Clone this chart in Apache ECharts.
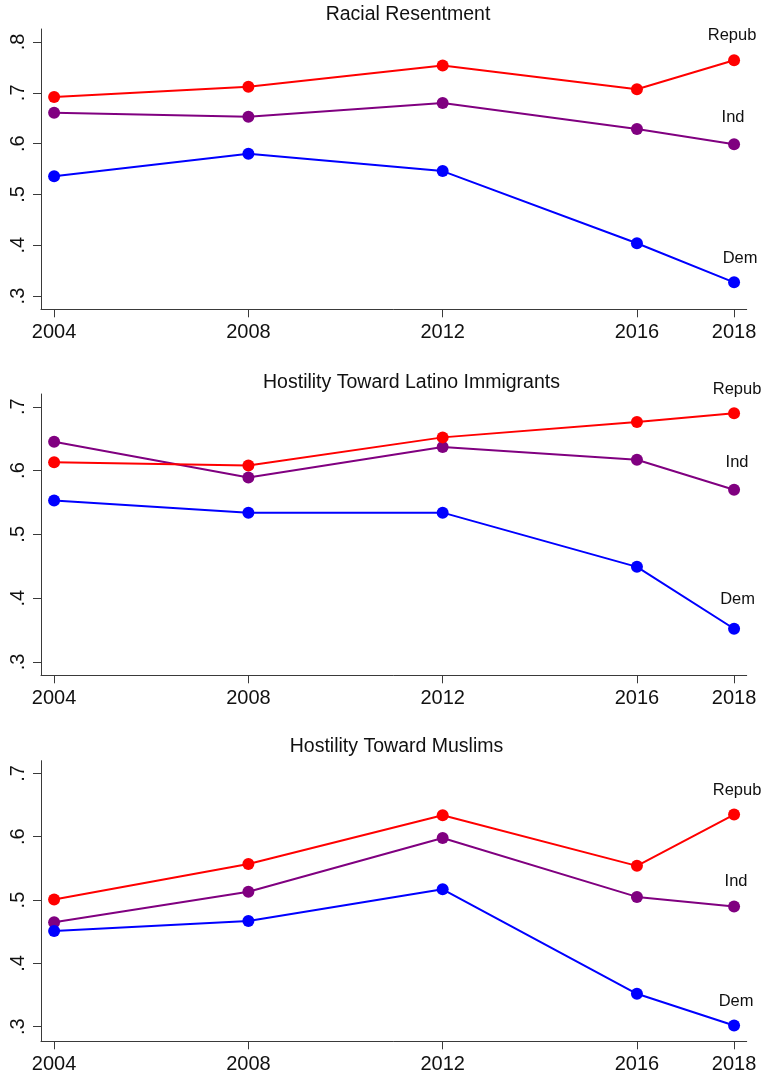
<!DOCTYPE html>
<html>
<head>
<meta charset="utf-8">
<script src="https://cdn.jsdelivr.net/npm/echarts@6/dist/echarts.min.js"></script>
<style>
  html, body { margin: 0; padding: 0; background: #ffffff; }
  #chart { width: 762px; height: 1077px; }
</style>
</head>
<body>
<div id="chart"></div>
<script>
// Survey years and the ticks shown on each x axis
const years = [2004, 2008, 2012, 2016, 2018];
const xTicks = [2004, 2008, 2012, 2016, 2018];

const panelTitles = ['Racial Resentment', 'Hostility Toward Latino Immigrants', 'Hostility Toward Muslims'];
const partyNames = ['Repub', 'Ind', 'Dem'];

// Racial resentment, mean score by party
const resentRepub = [0.692, 0.712, 0.754, 0.707, 0.764];
const resentInd   = [0.661, 0.653, 0.680, 0.629, 0.599];
const resentDem   = [0.536, 0.580, 0.546, 0.404, 0.327];

// Hostility toward Latino immigrants
const latinoRepub = [0.613, 0.608, 0.652, 0.676, 0.690];
const latinoInd   = [0.645, 0.589, 0.637, 0.617, 0.570];
const latinoDem   = [0.553, 0.534, 0.534, 0.449, 0.352];

// Hostility toward Muslims
const muslimRepub = [0.501, 0.557, 0.634, 0.554, 0.635];
const muslimInd   = [0.465, 0.513, 0.598, 0.505, 0.490];
const muslimDem   = [0.451, 0.467, 0.517, 0.352, 0.302];

// y-axis tick values
const yTicksResent = [0.3, 0.4, 0.5, 0.6, 0.7, 0.8];
const yTicksOther  = [0.3, 0.4, 0.5, 0.6, 0.7];

// ---- layout & styling ----
const FONT = 'Liberation Sans, Arial, Helvetica, sans-serif';
const partyColors = { Repub: '#ff0000', Ind: '#800080', Dem: '#0000ff' };
const axisColor = '#3a3a3a';

const panels = [
  { title: panelTitles[0], titleX: 408, titleY: 15, top: 29, height: 280.3, yMin: 0.274, yMax: 0.8256, yTicks: yTicksResent,
    values: { Repub: resentRepub, Ind: resentInd, Dem: resentDem },
    labelOffset: { Repub: [-2, 0], Ind: [-1, -2], Dem: [6, 1] } },
  { title: panelTitles[1], titleX: 411.5, titleY: 383, top: 394, height: 281.3, yMin: 0.279, yMax: 0.72, yTicks: yTicksOther,
    values: { Repub: latinoRepub, Ind: latinoInd, Dem: latinoDem },
    labelOffset: { Repub: [3, 1], Ind: [3, -3], Dem: [3.5, -5] } },
  { title: panelTitles[2], titleX: 396.5, titleY: 746.5, top: 760.7, height: 280.6, yMin: 0.277, yMax: 0.72, yTicks: yTicksOther,
    values: { Repub: muslimRepub, Ind: muslimInd, Dem: muslimDem },
    labelOffset: { Repub: [3, 0], Ind: [2, 0], Dem: [2, 0] } }
];

const fmtY = v => (Math.round(v * 10) / 10).toFixed(1).replace(/^0/, '');

const grid = [], xAxis = [], yAxis = [], series = [], graphic = [];
// drawing order: Ind underneath, then Dem, then Repub on top
const drawOrder = ['Ind', 'Dem', 'Repub'];

panels.forEach((p, i) => {
  grid.push({ left: 41, width: 705.7, top: p.top, height: p.height, containLabel: false });
  xAxis.push({
    type: 'value', gridIndex: i, min: 2003.73, max: 2018.26,
    splitLine: { show: false },
    axisLine: { show: true, onZero: false, lineStyle: { color: axisColor, width: 1 } },
    axisTick: { show: true, length: 8, lineStyle: { color: axisColor, width: 1 }, customValues: xTicks },
    axisLabel: { show: true, customValues: xTicks, margin: 13, color: '#111', fontSize: 20, fontFamily: FONT,
      formatter: v => String(Math.round(v)) }
  });
  yAxis.push({
    type: 'value', gridIndex: i, min: p.yMin, max: p.yMax,
    splitLine: { show: false },
    axisLine: { show: true, onZero: false, lineStyle: { color: axisColor, width: 1 } },
    axisTick: { show: true, length: 8, lineStyle: { color: axisColor, width: 1 }, customValues: p.yTicks },
    axisLabel: { show: true, customValues: p.yTicks, rotate: 90, margin: 13, color: '#111', fontSize: 20, fontFamily: FONT,
      formatter: fmtY }
  });
  drawOrder.forEach(party => {
    const vals = p.values[party];
    const data = years.map((yr, k) => {
      if (k === years.length - 1) {
        return {
          value: [yr, vals[k]],
          label: { show: true, position: 'top', distance: 10, offset: p.labelOffset[party],
            formatter: party, color: '#111', fontSize: 16.5, fontFamily: FONT }
        };
      }
      return [yr, vals[k]];
    });
    series.push({
      type: 'line', name: party, xAxisIndex: i, yAxisIndex: i, data,
      symbol: 'circle', symbolSize: 12, showSymbol: true,
      lineStyle: { color: partyColors[party], width: 2 },
      itemStyle: { color: partyColors[party] },
      label: { show: false },
      emphasis: { disabled: true },
      animation: false
    });
  });
  graphic.push({
    type: 'text', x: p.titleX, y: p.titleY,
    style: { text: p.title, fontSize: 19.5, fontFamily: FONT, fill: '#111', align: 'center', verticalAlign: 'middle' }
  });
});

const chart = echarts.init(document.getElementById('chart'), null, { renderer: 'canvas' });
chart.setOption({
  backgroundColor: '#ffffff',
  animation: false,
  grid, xAxis, yAxis, series, graphic
});
</script>
</body>
</html>
